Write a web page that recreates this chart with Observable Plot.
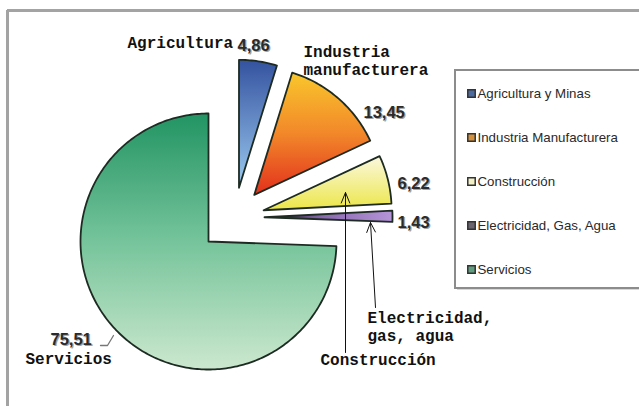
<!DOCTYPE html>
<html><head><meta charset="utf-8">
<script src="https://cdn.jsdelivr.net/npm/d3@7"></script>
<script src="https://cdn.jsdelivr.net/npm/@observablehq/plot@0.6"></script>
<style>html,body{margin:0;padding:0;background:#fff;overflow:hidden}</style>
</head><body><div id="chart"></div>
<script>
// ---- data ----
const sectors = ["Agricultura y Minas", "Industria Manufacturera", "Construcción", "Electricidad, Gas, Agua", "Servicios"];
const shares = [4.86, 13.45, 6.22, 1.43, 75.51];
const valueLabels = ["4,86", "13,45", "6,22", "1,43", "75,51"];
const calloutLabels = [["Agricultura"], ["Industria", "manufacturera"], ["Construcción"], ["Electricidad,", "gas, agua"], ["Servicios"]];
const exploded = [true, true, true, true, false];

// ---- layout / style ----
const W = 639, H = 406;
const CX = 208, CY = 241, R = 128, SHIFT = [26, -24], EXPLODE = 30;
const valuePos = [[237, 50], [363, 117], [397, 188], [397, 227], [50, 344]];
const calloutPos = [[[127, 47]], [[303, 56], [303, 74]], [[320, 364]], [[367, 322], [367, 340]], [[25, 363]]];
const swatch = ["#4d6aa0", "#d4903a", "#f2f0c4", "#6a6470", "#5f9f80"];
const grads = [
  {dir: "v", stops: [[0, "#34529f"], [1, "#9ccaf0"]]},
  {dir: "v", stops: [[0, "#f9c72c"], [0.5, "#f2872a"], [1, "#e2301c"]]},
  {dir: "v", stops: [[0, "#fbf8de"], [1, "#ece648"]]},
  {dir: "h", stops: [[0, "#151515"], [0.45, "#8a68b0"], [1, "#b594d8"]]},
  {dir: "v", stops: [[0, "#229463"], [0.5, "#76c49b"], [1, "#cce8ce"]]}
];

const total = d3.sum(shares);
let cum = 0;
const slices = shares.map((v, i) => {
  const a0 = cum / total * 2 * Math.PI; cum += v;
  const a1 = cum / total * 2 * Math.PI;
  return {i, a0, a1};
});
function slicePoints(s) {
  const m = (s.a0 + s.a1) / 2;
  let cx = CX, cy = CY;
  if (exploded[s.i]) { cx += SHIFT[0] + EXPLODE * Math.sin(m); cy += SHIFT[1] - EXPLODE * Math.cos(m); }
  const pts = [{x: cx, y: cy}];
  const n = Math.max(2, Math.ceil((s.a1 - s.a0) / (Math.PI / 180)));
  for (let k = 0; k <= n; k++) {
    const a = s.a0 + (s.a1 - s.a0) * k / n;
    pts.push({x: cx + R * Math.sin(a), y: cy - R * Math.cos(a)});
  }
  return pts;
}

const monoFont = "Liberation Mono, DejaVu Sans Mono, monospace";
const sansFont = "Liberation Sans, Arial, sans-serif";

const calloutData = calloutLabels.flatMap((lines, i) => lines.map((t, j) => ({t, x: calloutPos[i][j][0], y: calloutPos[i][j][1]})));
const valueData = valueLabels.map((t, i) => ({t, x: valuePos[i][0], y: valuePos[i][1]}));
const legendData = sectors.map((s, i) => ({s, i, y: 93 + i * 44}));

const marks = [
  // outer frame
  Plot.ruleY([10], {x1: 7, x2: W + 5, stroke: "#a3a3a3", strokeWidth: 3}),
  Plot.ruleX([7], {y1: 10, y2: H + 5, stroke: "#a3a3a3", strokeWidth: 3}),
  // legend box
  Plot.rect([0], {x1: 457, x2: W + 10, y1: 72, y2: 290, fill: "#d8d8d8"}),
  Plot.rect([0], {x1: 455, x2: W + 10, y1: 70, y2: 288, fill: "white", stroke: "#8c8c8c", strokeWidth: 2}),
  Plot.dot(legendData, {x: 471, y: "y", symbol: "square", r: 4.2, fill: d => swatch[d.i], stroke: "#333", strokeWidth: 1.5}),
  Plot.text(legendData, {x: 477, y: "y", text: "s", textAnchor: "start", fontSize: 13.3, fontFamily: sansFont, fill: "#2a2a2a", letterSpacing: "-0.4px"}),
  // slices
  ...slices.map(s => Plot.line(slicePoints(s), {x: "x", y: "y", curve: "linear-closed", fill: `url(#grad${s.i})`, stroke: "#1d2b22", strokeWidth: 1.8, strokeLinejoin: "round"})),
  // arrows
  Plot.arrow([{x1: 345, y1: 352, x2: 345, y2: 192}], {x1: "x1", y1: "y1", x2: "x2", y2: "y2", stroke: "#111", strokeWidth: 1, headLength: 17, headAngle: 44}),
  Plot.arrow([{x1: 375, y1: 307, x2: 370, y2: 222}], {x1: "x1", y1: "y1", x2: "x2", y2: "y2", stroke: "#111", strokeWidth: 1, headLength: 16, headAngle: 48}),
  // 75,51 leader
  Plot.line([{x: 100, y: 345}, {x: 107, y: 345}, {x: 113, y: 335}], {x: "x", y: "y", stroke: "#777", strokeWidth: 1.3}),
  // value labels (shadow + text)
  Plot.text(valueData, {x: "x", y: "y", text: "t", textAnchor: "start", lineAnchor: "bottom", dx: 1.2, dy: 1.2, fontSize: 16.5, fontWeight: "bold", fontFamily: sansFont, fill: "#a0a0a0"}),
  Plot.text(valueData, {x: "x", y: "y", text: "t", textAnchor: "start", lineAnchor: "bottom", fontSize: 16.5, fontWeight: "bold", fontFamily: sansFont, fill: "#2b2b2b"}),
  // callouts
  Plot.text(calloutData, {x: "x", y: "y", text: "t", textAnchor: "start", lineAnchor: "bottom", fontSize: 16, fontWeight: "bold", fontFamily: monoFont, fill: "#111"})
];

const svg = Plot.plot({
  width: W, height: H, margin: 0,
  x: {domain: [0, W], range: [0, W], axis: null},
  y: {domain: [0, H], range: [0, H], axis: null},
  style: {background: "white", overflow: "hidden"},
  marks
});

const defs = d3.select(svg).insert("defs", ":first-child");
grads.forEach((g, i) => {
  const lg = defs.append("linearGradient").attr("id", `grad${i}`)
    .attr("x1", 0).attr("y1", 0)
    .attr("x2", g.dir === "h" ? 1 : 0).attr("y2", g.dir === "h" ? 0 : 1);
  g.stops.forEach(([o, c]) => lg.append("stop").attr("offset", o).attr("stop-color", c));
});

document.getElementById("chart").appendChild(svg);
</script>
</body></html>
